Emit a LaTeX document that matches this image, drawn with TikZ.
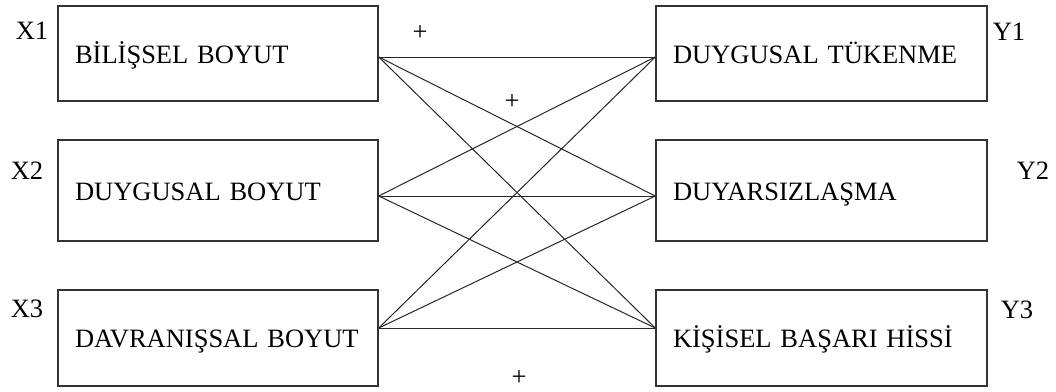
\documentclass[tikz,border=0pt]{standalone}
\usepackage{fontspec}
\setmainfont{Liberation Serif}
\begin{document}
\begin{tikzpicture}[x=1pt,y=-1pt,
  dimbox/.style={draw=black!80,line width=1.4pt,minimum height=96pt,
    inner xsep=17pt,inner ysep=0pt,align=left,text height=22pt,text depth=3pt,
    font=\fontsize{26.5}{30}\selectfont},
  leftbox/.style={dimbox,text width=286pt,minimum width=320pt},
  rightbox/.style={dimbox,text width=297pt,minimum width=331pt},
  tag/.style={font=\fontsize{26.5}{30}\selectfont,inner sep=0pt},
  link/.style={draw=black!85,line width=1pt}]
\useasboundingbox (0,0) rectangle (1056,391);

% independent dimensions
\node[leftbox,minimum height=95pt]  (L1) at (218,53.5)  {BİLİŞSEL BOYUT};
\node[leftbox,minimum height=101pt] (L2) at (218,190.5) {DUYGUSAL BOYUT};
\node[leftbox]                      (L3) at (218,338)   {DAVRANIŞSAL BOYUT};

% burnout dimensions
\node[rightbox,minimum height=95pt]  (R1) at (821.5,53.5)  {DUYGUSAL TÜKENME};
\node[rightbox,minimum height=101pt] (R2) at (821.5,190.5) {DUYARSIZLAŞMA};
\node[rightbox]                      (R3) at (821.5,338)   {KİŞİSEL BAŞARI HİSSİ};

% variable tags
\node[tag] (X1) at (32,31)   {X1};
\node[tag] (X2) at (27,171)  {X2};
\node[tag] (X3) at (27,309)  {X3};
\node[tag] (Y1) at (1009,32) {Y1};
\node[tag] (Y2) at (1033,171){Y2};
\node[tag] (Y3) at (1017,310){Y3};

% connection points on the box edges
\coordinate (a1) at (L1.east |- 0,57);
\coordinate (a2) at (L2.east |- 0,196);
\coordinate (a3) at (L3.east |- 0,328);
\coordinate (b1) at (R1.west |- 0,57);
\coordinate (b2) at (R2.west |- 0,196);
\coordinate (b3) at (R3.west |- 0,328);

\foreach \i in {1,2,3}{
  \foreach \j in {1,2,3}{
    \draw[link] (a\i) -- (b\j);
  }
}

% signs
\node[tag] (p1) at (420,33)  {+};
\node[tag] (p2) at (512,102) {+};
\node[tag] (p3) at (519,378) {+};
\end{tikzpicture}
\end{document}
